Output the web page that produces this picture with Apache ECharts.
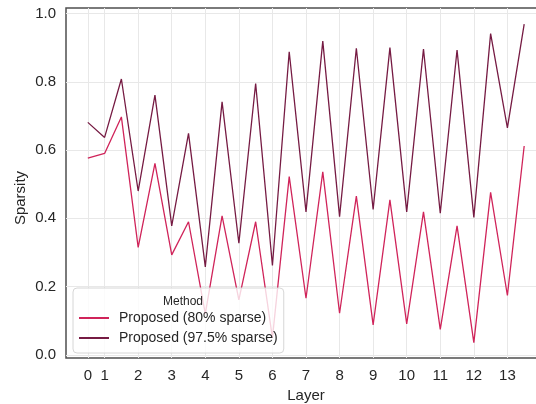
<!DOCTYPE html>
<html>
<head>
<meta charset="utf-8">
<script src="https://cdn.jsdelivr.net/npm/echarts@6/dist/echarts.min.js"></script>
<style>
  html, body { margin: 0; padding: 0; background: #fff; }
  #chart { width: 536px; height: 404px; }
</style>
</head>
<body>
<div id="chart"></div>
<script>
// x positions of the measured points (layer units, half-layer steps)
const xValues = [0.5, 1, 1.5, 2, 2.5, 3, 3.5, 4, 4.5, 5, 5.5, 6, 6.5, 7, 7.5, 8, 8.5,
  9, 9.5, 10, 10.5, 11, 11.5, 12, 12.5, 13, 13.5];

const sparse80 = [0.576, 0.590, 0.697, 0.315, 0.561, 0.293, 0.390, 0.120, 0.407, 0.161,
  0.390, 0.050, 0.522, 0.166, 0.536, 0.122, 0.465, 0.088, 0.454, 0.091, 0.419, 0.075,
  0.378, 0.036, 0.476, 0.174, 0.612];

const sparse975 = [0.681, 0.637, 0.808, 0.480, 0.761, 0.378, 0.649, 0.258, 0.741, 0.327,
  0.795, 0.262, 0.888, 0.419, 0.919, 0.405, 0.898, 0.426, 0.900, 0.419, 0.896, 0.415,
  0.893, 0.403, 0.941, 0.665, 0.969];

const xTickValues = [0.5, 1, 2, 3, 4, 5, 6, 7, 8, 9, 10, 11, 12, 13];
const xTickLabels = ['0', '1', '2', '3', '4', '5', '6', '7', '8', '9', '10', '11', '12', '13'];
const yTickValues = [0, 0.2, 0.4, 0.6, 0.8, 1.0];

const seriesNames = ['Proposed (80% sparse)', 'Proposed (97.5% sparse)'];
const colors = ['#d0245a', '#761b43'];

const FONT = '"Liberation Sans", Arial, sans-serif';
const TEXT = '#262626';

const chart = echarts.init(document.getElementById('chart'), null, { renderer: 'canvas' });

const toPairs = ys => ys.map((y, i) => [xValues[i], y]);

chart.setOption({
  animation: false,
  textStyle: { fontFamily: FONT, color: TEXT },
  grid: {
    left: 66, top: 8, width: 480, height: 350,
    outerBoundsMode: 'none',
    containLabel: false,
    show: true, borderColor: '#4f4f4f', borderWidth: 1.5, backgroundColor: 'transparent'
  },
  xAxis: {
    type: 'value',
    min: -0.15,
    max: 14.15,
    name: 'Layer',
    nameLocation: 'middle',
    nameGap: 28,
    nameTextStyle: { fontSize: 15, color: TEXT, fontFamily: FONT },
    axisLine: { show: false },
    axisTick: { show: false, customValues: xTickValues },
    axisLabel: {
      customValues: xTickValues,
      margin: 10,
      fontSize: 15,
      color: TEXT,
      fontFamily: FONT,
      formatter: v => xTickLabels[xTickValues.indexOf(v)]
    },
    splitLine: { show: true, lineStyle: { color: '#e8e8e8', width: 1 } }
  },
  yAxis: {
    type: 'value',
    min: -0.009,
    max: 1.016,
    axisLine: { show: false },
    axisTick: { show: false, customValues: yTickValues },
    axisLabel: {
      customValues: yTickValues,
      margin: 10,
      fontSize: 15,
      color: TEXT,
      fontFamily: FONT,
      formatter: v => v.toFixed(1)
    },
    splitLine: { show: true, lineStyle: { color: '#e8e8e8', width: 1 } }
  },
  title: {
    text: 'Method',
    left: 178,
    top: 291,
    textAlign: 'center',
    textStyle: { fontSize: 12, fontWeight: 'normal', color: TEXT, fontFamily: FONT },
    z: 10
  },
  legend: {
    orient: 'vertical',
    left: 73,
    top: 288,
    padding: [23, 6, 8, 5],
    itemWidth: 30,
    itemHeight: 14,
    itemGap: 6,
    itemStyle: { opacity: 0 },
    backgroundColor: 'rgba(255,255,255,0.8)',
    borderColor: '#d6d6d6',
    borderWidth: 1,
    borderRadius: 4,
    textStyle: { fontSize: 14, color: TEXT, fontFamily: FONT, padding: [0, 0, 0, 5] },
    data: seriesNames
  },
  graphic: [{
    type: 'text',
    x: 21,
    y: 198,
    rotation: Math.PI / 2,
    style: {
      text: 'Sparsity', fontSize: 15, fontFamily: FONT, fill: TEXT,
      align: 'center', verticalAlign: 'middle'
    }
  }],
  series: [
    {
      name: seriesNames[0],
      type: 'line',
      data: toPairs(sparse80),
      symbol: 'none',
      lineStyle: { color: colors[0], width: 1.3 },
      itemStyle: { color: colors[0] }
    },
    {
      name: seriesNames[1],
      type: 'line',
      data: toPairs(sparse975),
      symbol: 'none',
      lineStyle: { color: colors[1], width: 1.3 },
      itemStyle: { color: colors[1] }
    }
  ]
});
</script>
</body>
</html>
